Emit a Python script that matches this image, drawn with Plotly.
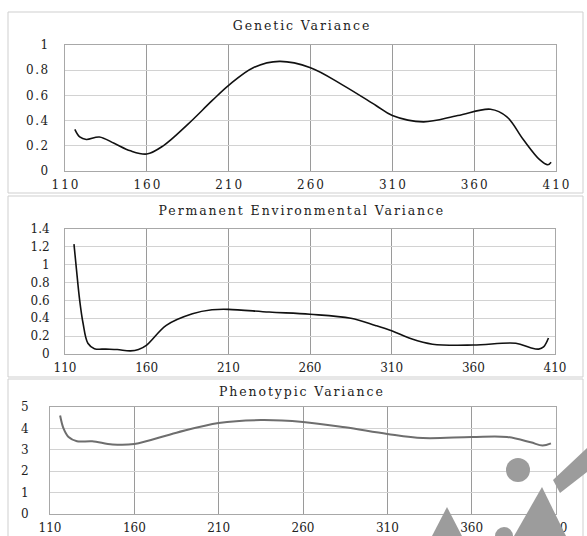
import plotly.graph_objects as go

# Days in milk and the variance estimates for each component
gen_x = [116, 119, 123, 131, 140, 150, 160, 170, 185, 200, 210, 225, 241, 260, 280, 300, 310, 329, 350, 370, 380, 390, 400, 405, 407]
gen_y = [0.33, 0.27, 0.25, 0.27, 0.22, 0.16, 0.135, 0.20, 0.37, 0.56, 0.68, 0.82, 0.87, 0.82, 0.68, 0.52, 0.44, 0.39, 0.44, 0.49, 0.43, 0.25, 0.09, 0.05, 0.07]

pe_x = [115.5, 117, 119, 121, 124, 128, 135, 142, 150, 155, 160, 172, 188, 200, 210, 235, 260, 285, 300, 310, 322, 335, 360, 386, 395, 400, 403, 406]
pe_y = [1.23, 0.95, 0.6, 0.35, 0.12, 0.06, 0.055, 0.05, 0.035, 0.05, 0.10, 0.32, 0.45, 0.495, 0.50, 0.47, 0.445, 0.40, 0.32, 0.26, 0.17, 0.11, 0.10, 0.12, 0.07, 0.055, 0.08, 0.18]

ph_x = [116, 118, 121, 126, 135, 147, 160, 185, 210, 235, 260, 285, 310, 331, 360, 381, 395, 402, 407]
ph_y = [4.6, 4.0, 3.6, 3.4, 3.4, 3.25, 3.27, 3.8, 4.25, 4.39, 4.3, 4.05, 3.74, 3.55, 3.6, 3.6, 3.35, 3.2, 3.3]

titles = ["Genetic Variance", "Permanent Environmental Variance", "Phenotypic Variance"]
x_ticks = [110, 160, 210, 260, 310, 360, 410]

W, H = 587, 536


def px(x):
    return x / W


def py(y):
    return 1 - y / H


serif = "DejaVu Serif"
tick_font = dict(family=serif, size=12, color="#222")

fig = go.Figure()
fig.add_trace(go.Scatter(x=gen_x, y=gen_y, mode="lines", xaxis="x", yaxis="y",
                         line=dict(color="#111", width=1.6, shape="spline", smoothing=1.0)))
fig.add_trace(go.Scatter(x=pe_x, y=pe_y, mode="lines", xaxis="x2", yaxis="y2",
                         line=dict(color="#111", width=1.6, shape="spline", smoothing=1.0)))
fig.add_trace(go.Scatter(x=ph_x, y=ph_y, mode="lines", xaxis="x3", yaxis="y3",
                         line=dict(color="#6e6e6e", width=2, shape="spline", smoothing=1.0)))

# plot areas in pixel terms: (left, right, top, bottom)
areas = [(65, 556, 45, 171), (65, 555, 229, 354), (50, 556, 407, 514)]
yranges = [[0, 1], [0, 1.4], [0, 5]]
ydticks = [0.2, 0.2, 1]
ystand = [14, 14, 20]

layout = dict(
    width=W, height=H, autosize=False,
    margin=dict(l=0, r=0, t=0, b=0, pad=0, autoexpand=False),
    paper_bgcolor="white", plot_bgcolor="white", showlegend=False,
)
for i, (l, r, t, b) in enumerate(areas):
    sfx = "" if i == 0 else str(i + 1)
    layout["xaxis" + sfx] = dict(
        domain=[px(l), px(r)], anchor="y" + sfx, range=[110, 410], automargin=False,
        tickvals=x_ticks, ticks="", showgrid=True, gridcolor="#9a9a9a", gridwidth=1,
        showline=True, mirror=True, linecolor="#a8a8a8", linewidth=1,
        zeroline=False, tickfont=tick_font, ticklabelstandoff=3,
    )
    layout["yaxis" + sfx] = dict(
        domain=[py(b), py(t)], anchor="x" + sfx, range=yranges[i], automargin=False,
        dtick=ydticks[i], tick0=0, ticks="", showgrid=True, gridcolor="#d2d2d2", gridwidth=1,
        showline=True, mirror=True, linecolor="#a8a8a8", linewidth=1,
        zeroline=False, tickfont=tick_font, ticklabelstandoff=ystand[i] - 2,
    )

fig.update_layout(**layout)

# panel frames
frames = [(8, 583, 12, 193), (8, 583, 196, 377), (8, 583, 379, 545)]
for (l, r, t, b) in frames:
    fig.add_shape(type="rect", xref="paper", yref="paper",
                  x0=px(l), x1=px(r), y0=py(b), y1=py(t),
                  line=dict(color="#cfcfcf", width=1), layer="below")

# panel titles
for title, ty in zip(titles, [26, 210, 391]):
    fig.add_annotation(text=title, xref="paper", yref="paper", x=px(302), y=py(ty),
                       showarrow=False, xanchor="center", yanchor="middle",
                       font=dict(family=serif, size=12.5, color="#222"))

# grey logo stamp in the lower-right corner
def poly(points):
    d = "M " + " L ".join(f"{px(a):.5f},{py(b):.5f}" for a, b in points) + " Z"
    return d


logo = "#9c9c9c"
fig.add_shape(type="circle", xref="paper", yref="paper",
              x0=px(506), x1=px(530), y0=py(482), y1=py(458),
              fillcolor=logo, line=dict(width=0), layer="above")
fig.add_shape(type="circle", xref="paper", yref="paper",
              x0=px(495), x1=px(513), y0=py(545), y1=py(527),
              fillcolor=logo, line=dict(width=0), layer="above")
for pts in [
    [(514, 536), (542, 487), (566, 536)],
    [(553, 480), (587, 448), (587, 472), (560, 493)],
    [(432, 536), (447, 507), (462, 536)],
]:
    fig.add_shape(type="path", xref="paper", yref="paper", path=poly(pts),
                  fillcolor=logo, line=dict(width=0), layer="above")

# wide, letter-spaced typography for titles and tick labels
spacing_js = """
var gd = document.getElementById('{plot_id}');
function spread() {
  gd.querySelectorAll('.xtick text').forEach(function (t) {
    t.style.letterSpacing = '2px';
    t.setAttribute('dx', '1');
  });
  gd.querySelectorAll('.ytick text').forEach(function (t) {
    t.style.letterSpacing = '1.5px';
  });
  gd.querySelectorAll('.annotation-text').forEach(function (t) {
    t.style.letterSpacing = '1.9px';
  });
}
spread();
gd.on('plotly_afterplot', spread);
"""

fig.write_html("out.html", post_script=spacing_js)
